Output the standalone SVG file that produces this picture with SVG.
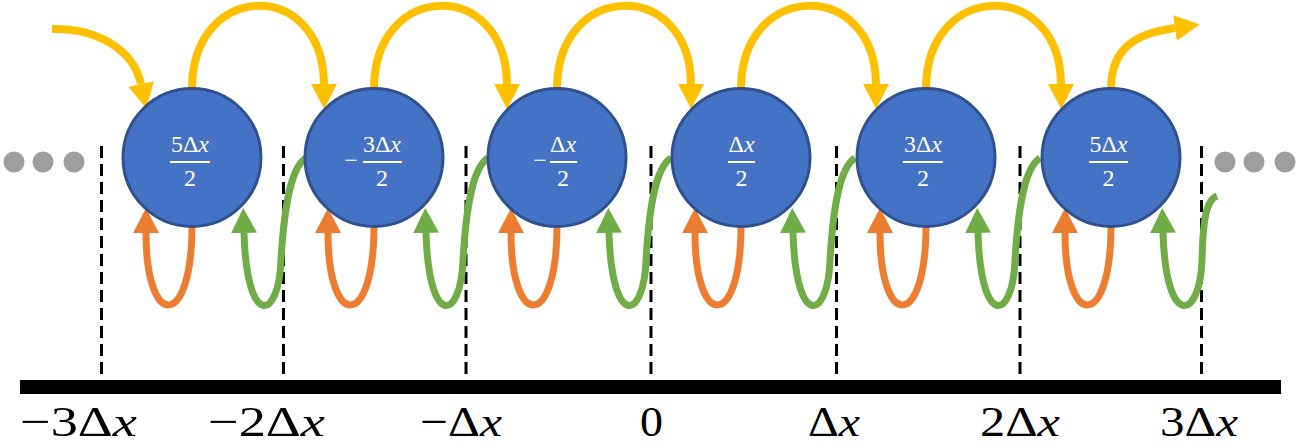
<svg xmlns="http://www.w3.org/2000/svg" width="1300" height="447" viewBox="0 0 1300 447">
<style>
.node{fill:#4472C4;stroke:#2F528F;stroke-width:3}
.nt{fill:#fff;font-family:"Liberation Serif","DejaVu Serif",serif;font-size:24px;text-anchor:middle}
.fl{stroke:#fff;stroke-width:2}
.it{font-style:italic}
.y{fill:none;stroke:#FFC000;stroke-width:8;marker-end:url(#ay)}
.o{fill:none;stroke:#ED7D31;stroke-width:7;marker-end:url(#ao)}
.g{fill:none;stroke:#70AD47;stroke-width:7;marker-end:url(#ag)}
.dash{stroke:#000;stroke-width:3;stroke-dasharray:12 6}
.dot{fill:#9E9E9E}
.lab{font-family:"Liberation Serif","DejaVu Serif",serif;font-size:43px;fill:#000}
</style>
<defs>
<marker id="ay" markerUnits="userSpaceOnUse" markerWidth="28" markerHeight="30" viewBox="0 -15 28 30" refX="0" refY="0" orient="auto"><path d="M0,-13 L25,0 L0,13 z" fill="#FFC000"/></marker>
<marker id="ao" markerUnits="userSpaceOnUse" markerWidth="28" markerHeight="30" viewBox="0 -15 28 30" refX="0" refY="0" orient="auto"><path d="M0,-13 L25,0 L0,13 z" fill="#ED7D31"/></marker>
<marker id="ag" markerUnits="userSpaceOnUse" markerWidth="28" markerHeight="30" viewBox="0 -15 28 30" refX="0" refY="0" orient="auto"><path d="M0,-13 L25,0 L0,13 z" fill="#70AD47"/></marker>
</defs>
<rect width="1300" height="447" fill="#fff"/>
<g id="axis">
<rect x="20" y="380" width="1261" height="14" fill="#000"/>
<line class="dash" x1="101.5" y1="146" x2="101.5" y2="380"/>
<line class="dash" x1="283.5" y1="146" x2="283.5" y2="380"/>
<line class="dash" x1="466" y1="146" x2="466" y2="380"/>
<line class="dash" x1="651" y1="146" x2="651" y2="380"/>
<line class="dash" x1="836.5" y1="146" x2="836.5" y2="380"/>
<line class="dash" x1="1020" y1="146" x2="1020" y2="380"/>
<line class="dash" x1="1201.5" y1="146" x2="1201.5" y2="380"/>
<text class="lab" x="20" y="436" textLength="117" lengthAdjust="spacingAndGlyphs">−3Δ<tspan class="it">x</tspan></text>
<text class="lab" x="208" y="436" textLength="117" lengthAdjust="spacingAndGlyphs">−2Δ<tspan class="it">x</tspan></text>
<text class="lab" x="420" y="436" textLength="82" lengthAdjust="spacingAndGlyphs">−Δ<tspan class="it">x</tspan></text>
<text class="lab" x="640" y="436" textLength="23" lengthAdjust="spacingAndGlyphs">0</text>
<text class="lab" x="808" y="436" textLength="52" lengthAdjust="spacingAndGlyphs">Δ<tspan class="it">x</tspan></text>
<text class="lab" x="980" y="436" textLength="80" lengthAdjust="spacingAndGlyphs">2Δ<tspan class="it">x</tspan></text>
<text class="lab" x="1160" y="436" textLength="78" lengthAdjust="spacingAndGlyphs">3Δ<tspan class="it">x</tspan></text>
</g>
<g id="dots">
<circle class="dot" cx="14" cy="162" r="10.5"/><circle class="dot" cx="43" cy="162" r="10.5"/><circle class="dot" cx="74" cy="162" r="10.5"/>
<circle class="dot" cx="1225" cy="162" r="10.5"/><circle class="dot" cx="1254" cy="162" r="10.5"/><circle class="dot" cx="1285" cy="162" r="10.5"/>
</g>
<g id="connectors">
<path class="y" d="M52,29 C95,28 133,48 141,84"/>
<path class="y" d="M192,89 C192,-20 323,-22 324,84"/>
<path class="y" d="M374,89 C374,-20 506,-22 507,84"/>
<path class="y" d="M557,89 C557,-20 690,-22 691,84"/>
<path class="y" d="M741,89 C741,-20 875,-22 876,84"/>
<path class="y" d="M926,89 C926,-20 1060,-22 1061,84"/>
<path class="y" d="M1111,89 C1111,45 1140,33 1175,28"/>
<path class="o" d="M192,226 C192,330 146,330 146,233"/>
<path class="o" d="M374,226 C374,330 328,330 328,233"/>
<path class="o" d="M557,226 C557,330 511,330 511,233"/>
<path class="o" d="M741,226 C741,330 695,330 695,233"/>
<path class="o" d="M926,226 C926,330 880,330 880,233"/>
<path class="o" d="M1111,226 C1111,330 1065,330 1065,233"/>
<path class="g" d="M306,158 C290,168 284,210 281,260 C279,320 247,330 244,233"/>
<path class="g" d="M488,158 C472,168 466,210 463,260 C461,320 429,330 426,233"/>
<path class="g" d="M671,158 C655,168 649,210 646,260 C644,320 612,330 609,233"/>
<path class="g" d="M855,158 C839,168 833,210 830,260 C828,320 796,330 793,233"/>
<path class="g" d="M1040,158 C1024,168 1018,210 1015,260 C1013,320 981,330 978,233"/>
<path class="g" d="M1217,196 C1206,200 1203,220 1202,260 C1200,320 1166,330 1163,233"/>
</g>
<g id="node1">
<circle class="node" cx="192" cy="157.5" r="69"/>
<text class="nt" x="190" y="152" textLength="38" lengthAdjust="spacingAndGlyphs">5Δ<tspan class="it">x</tspan></text>
<line class="fl" x1="170" y1="162" x2="210" y2="162"/>
<text class="nt" x="190" y="186">2</text>
</g>
<g id="node2">
<circle class="node" cx="374" cy="157.5" r="69"/>
<text class="nt" x="351" y="168">−</text>
<text class="nt" x="382" y="152" textLength="38" lengthAdjust="spacingAndGlyphs">3Δ<tspan class="it">x</tspan></text>
<line class="fl" x1="363" y1="162" x2="402" y2="162"/>
<text class="nt" x="382" y="186">2</text>
</g>
<g id="node3">
<circle class="node" cx="557" cy="157.5" r="69"/>
<text class="nt" x="540" y="168">−</text>
<text class="nt" x="563" y="152" textLength="26" lengthAdjust="spacingAndGlyphs">Δ<tspan class="it">x</tspan></text>
<line class="fl" x1="550" y1="162" x2="577" y2="162"/>
<text class="nt" x="563" y="186">2</text>
</g>
<g id="node4">
<circle class="node" cx="741" cy="157.5" r="69"/>
<text class="nt" x="741.5" y="152" textLength="26" lengthAdjust="spacingAndGlyphs">Δ<tspan class="it">x</tspan></text>
<line class="fl" x1="728" y1="162" x2="755" y2="162"/>
<text class="nt" x="741.5" y="186">2</text>
</g>
<g id="node5">
<circle class="node" cx="926" cy="157.5" r="69"/>
<text class="nt" x="923" y="152" textLength="38" lengthAdjust="spacingAndGlyphs">3Δ<tspan class="it">x</tspan></text>
<line class="fl" x1="903" y1="162" x2="943" y2="162"/>
<text class="nt" x="923" y="186">2</text>
</g>
<g id="node6">
<circle class="node" cx="1111" cy="157.5" r="69"/>
<text class="nt" x="1108.5" y="152" textLength="38" lengthAdjust="spacingAndGlyphs">5Δ<tspan class="it">x</tspan></text>
<line class="fl" x1="1089" y1="162" x2="1128" y2="162"/>
<text class="nt" x="1108.5" y="186">2</text>
</g>
</svg>
